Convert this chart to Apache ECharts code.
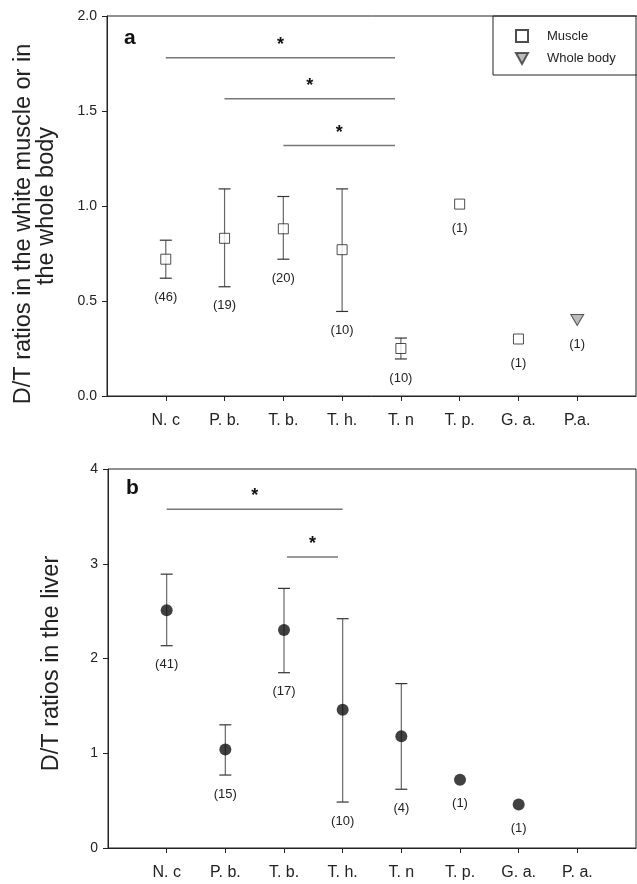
<!DOCTYPE html>
<html>
<head>
<meta charset="utf-8">
<script src="https://cdn.jsdelivr.net/npm/echarts@6/dist/echarts.min.js"></script>
<style>
  html, body { margin: 0; padding: 0; background: #fff; }
  #main { width: 637px; height: 884px; }
</style>
</head>
<body>
<div id="main"></div>
<script>
// categories (x positions 1..8)
const catsA = ['N. c', 'P. b.', 'T. b.', 'T. h.', 'T. n', 'T. p.', 'G. a.', 'P.a.'];
const catsB = ['N. c', 'P. b.', 'T. b.', 'T. h.', 'T. n', 'T. p.', 'G. a.', 'P. a.'];

// panel a: white muscle
const muscleMean = [0.72, 0.83, 0.88, 0.77, 0.25, 1.01, 0.30];
const muscleLow  = [0.62, 0.575, 0.72, 0.445, 0.195, null, null];
const muscleHigh = [0.82, 1.09, 1.05, 1.09, 0.305, null, null];
const muscleN    = [46, 19, 20, 10, 10, 1, 1];
// whole body (only P.a.)
const bodyMean = [0.40];
const bodyN    = [1];

// panel b: liver
const liverMean = [2.51, 1.04, 2.30, 1.46, 1.18, 0.72, 0.46];
const liverLow  = [2.135, 0.77, 1.85, 0.485, 0.62, null, null];
const liverHigh = [2.89, 1.30, 2.74, 2.42, 1.735, null, null];
const liverN    = [41, 15, 17, 10, 4, 1, 1];

// significance bars: [from, to, y]
const sigA = [[1, 4.9, 1.78], [2, 4.9, 1.565], [3, 4.9, 1.318]];
const sigB = [[1, 4.0, 3.575], [3.05, 3.92, 3.07]];

const ticksA = [0, 0.5, 1.0, 1.5, 2.0];
const ticksB = [0, 1, 2, 3, 4];

const FONT = 'Liberation Sans, Arial, sans-serif';
const positions = [1, 2, 3, 4, 5, 6, 7, 8];

const chart = echarts.init(document.getElementById('main'));

// error bar + (n) label
function errorSeries(axisIdx, mean, low, high, n, startPos) {
  return {
    type: 'custom',
    xAxisIndex: axisIdx,
    yAxisIndex: axisIdx,
    silent: true,
    z: 2,
    data: mean.map((m, i) => [startPos + i, low[i] == null ? m : low[i], high[i] == null ? m : high[i]]),
    renderItem(params, api) {
      const i = params.dataIndex;
      const x = api.value(0);
      const children = [];
      const pLow = api.coord([x, api.value(1)]);
      let labelY;
      if (low[i] != null) {
        const pHigh = api.coord([x, api.value(2)]);
        children.push({
          type: 'line',
          shape: { x1: pLow[0], y1: pLow[1], x2: pHigh[0], y2: pHigh[1] },
          style: { stroke: '#666', lineWidth: 1.2 }
        });
        [pLow, pHigh].forEach(p => children.push({
          type: 'line',
          shape: { x1: p[0] - 6, y1: p[1], x2: p[0] + 6, y2: p[1] },
          style: { stroke: '#333', lineWidth: 1.2 }
        }));
        labelY = pLow[1] + 19;
      } else {
        labelY = pLow[1] + 24;
      }
      children.push({
        type: 'text',
        x: pLow[0], y: labelY,
        style: {
          text: '(' + n[i] + ')', align: 'center', verticalAlign: 'middle',
          font: '13px ' + FONT, fill: '#222'
        }
      });
      return { type: 'group', children };
    }
  };
}

function sigSeries(axisIdx, sig) {
  return {
    type: 'custom',
    xAxisIndex: axisIdx,
    yAxisIndex: axisIdx,
    silent: true,
    data: sig,
    renderItem(params, api) {
      const a = api.coord([api.value(0), api.value(2)]);
      const b = api.coord([api.value(1), api.value(2)]);
      return {
        type: 'group',
        children: [
          { type: 'line', shape: { x1: a[0], y1: a[1], x2: b[0], y2: b[1] },
            style: { stroke: '#777', lineWidth: 1.5 } },
          { type: 'text', x: (a[0] + b[0]) / 2, y: a[1] - 13,
            style: { text: '*', align: 'center', verticalAlign: 'middle',
              font: 'bold 18px ' + FONT, fill: '#111' } }
        ]
      };
    }
  };
}

const xAxisBase = (gridIndex, labels) => ({
  type: 'value',
  gridIndex,
  min: 0, max: 9, interval: 1,
  axisLine: { lineStyle: { color: '#222', width: 1 } },
  axisTick: { customValues: positions, length: 5, lineStyle: { color: '#222' } },
  axisLabel: {
    customValues: positions, margin: 17,
    formatter: v => labels[v - 1] || '',
    fontFamily: FONT, fontSize: 16, color: '#222'
  },
  splitLine: { show: false }
});

const titleStyle = { fontFamily: FONT, fontSize: 23.5, color: '#222', lineHeight: 23 };

const yAxisBase = (gridIndex, ticks, name, nameGap, fmt) => ({
  type: 'value',
  gridIndex,
  min: ticks[0], max: ticks[ticks.length - 1], interval: ticks[1] - ticks[0],
  name, nameLocation: 'middle', nameGap, nameRotate: 90,
  nameTextStyle: Object.assign({}, titleStyle, {
    rich: {
      l1: Object.assign({}, titleStyle, { padding: [0, 36, 0, 0] }),
      l2: Object.assign({}, titleStyle),
      l3: Object.assign({}, titleStyle, { padding: [0, 10, 0, 0] })
    }
  }),
  axisLine: { show: true, lineStyle: { color: '#222', width: 1 } },
  axisTick: { show: true, length: 5, lineStyle: { color: '#222' } },
  axisLabel: { margin: 10, formatter: fmt, fontFamily: FONT, fontSize: 14, color: '#222' },
  splitLine: { show: false }
});

chart.setOption({
  animation: false,
  backgroundColor: '#fff',
  grid: [
    { left: 107, right: 1, top: 16, bottom: 488, show: true, borderColor: '#222', borderWidth: 1 },
    { left: 108, right: 1, top: 469, bottom: 36, show: true, borderColor: '#222', borderWidth: 1 }
  ],
  xAxis: [xAxisBase(0, catsA), xAxisBase(1, catsB)],
  yAxis: [
    yAxisBase(0, ticksA, '{l1|D/T ratios in the white muscle or in}\n{l2|the whole body}', 49, v => v.toFixed(1)),
    yAxisBase(1, ticksB, '{l3|D/T ratios in the liver}', 45, v => String(v))
  ],
  legend: {
    orient: 'vertical',
    left: 493, top: 16,
    data: ['Muscle', 'Whole body'],
    borderColor: '#222', borderWidth: 1,
    padding: [13, 22, 10, 22],
    itemWidth: 12, itemHeight: 12, itemGap: 9,
    textStyle: { fontFamily: FONT, fontSize: 13, color: '#222', padding: [0, 0, 0, 14] }
  },
  graphic: [
    { type: 'text', left: 124, top: 28, style: { text: 'a', font: 'bold 21px ' + FONT, fill: '#111' } },
    { type: 'text', left: 126, top: 478, style: { text: 'b', font: 'bold 21px ' + FONT, fill: '#111' } }
  ],
  series: [
    sigSeries(0, sigA),
    errorSeries(0, muscleMean, muscleLow, muscleHigh, muscleN, 1),
    errorSeries(0, bodyMean, [null], [null], bodyN, 8),
    {
      name: 'Muscle', type: 'scatter', xAxisIndex: 0, yAxisIndex: 0, z: 3,
      symbol: 'rect', symbolSize: 10,
      itemStyle: { color: '#fff', borderColor: '#222', borderWidth: 1 },
      data: muscleMean.map((m, i) => [i + 1, m])
    },
    {
      name: 'Whole body', type: 'scatter', xAxisIndex: 0, yAxisIndex: 0, z: 3,
      symbol: 'path://M0,0L10,0L5,9Z', symbolSize: [13, 11],
      itemStyle: { color: '#aaa', borderColor: '#333', borderWidth: 1 },
      data: bodyMean.map(m => [8, m])
    },
    sigSeries(1, sigB),
    errorSeries(1, liverMean, liverLow, liverHigh, liverN, 1),
    {
      name: 'Liver', type: 'scatter', xAxisIndex: 1, yAxisIndex: 1, z: 3,
      symbol: 'circle', symbolSize: 12,
      itemStyle: { color: '#111' },
      data: liverMean.map((m, i) => [i + 1, m])
    }
  ]
});
</script>
</body>
</html>
